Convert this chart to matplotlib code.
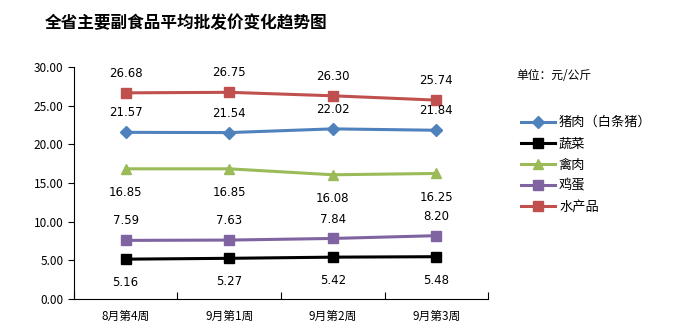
import matplotlib.pyplot as plt
import numpy as np

plt.rcParams['font.family'] = ['Noto Sans CJK SC', 'DejaVu Sans']

weeks = ['8月第4周', '9月第1周', '9月第2周', '9月第3周']
pork = [21.57, 21.54, 22.02, 21.84]
veg = [5.16, 5.27, 5.42, 5.48]
poultry = [16.85, 16.85, 16.08, 16.25]
eggs = [7.59, 7.63, 7.84, 8.20]
aquatic = [26.68, 26.75, 26.30, 25.74]

series = [
    ('猪肉（白条猪）', pork, '#4F81BD', 'D', 'above'),
    ('蔬菜', veg, '#000000', 's', 'below'),
    ('禽肉', poultry, '#9BBB59', '^', 'below'),
    ('鸡蛋', eggs, '#8064A2', 's', 'above'),
    ('水产品', aquatic, '#C0504D', 's', 'above'),
]

fig = plt.figure(figsize=(6.78, 3.36), dpi=100)
ax = fig.add_axes([0.109, 0.110, 0.611, 0.690])

x = np.arange(len(weeks))
for name, vals, color, mk, pos in series:
    ax.plot(x, vals, color=color, lw=2.2, marker=mk, markersize=7 if mk != 'D' else 6,
            label=name)
    for xi, v in zip(x, vals):
        dy = 14 if pos == 'above' else -17
        ax.annotate(f'{v:.2f}', (xi, v), xytext=(0, dy), textcoords='offset points',
                    ha='center', va='center', fontsize=8.5, family='DejaVu Sans')

ax.set_xlim(-0.5, 3.5)
ax.set_ylim(0, 30)
ax.set_yticks(np.arange(0, 31, 5))
ax.set_yticklabels([f'{v:.2f}' for v in np.arange(0, 31, 5)], fontsize=8.5)
ax.set_xticks(np.arange(-0.5, 4, 1))
ax.set_xticklabels([])
ax.set_xticks(x, minor=True)
ax.set_xticklabels(weeks, minor=True, fontsize=8.5)
ax.tick_params(axis='x', which='minor', length=0, pad=8)
ax.tick_params(axis='x', which='major', direction='in', length=5)
ax.tick_params(axis='y', direction='out', length=4)
ax.spines['top'].set_visible(False)
ax.spines['right'].set_visible(False)

fig.text(0.066, 0.93, '全省主要副食品平均批发价变化趋势图', fontsize=12, fontweight='bold',
         va='center')
fig.text(0.762, 0.776, '单位：元/公斤', fontsize=8.5, va='center')
ax.legend(loc='upper left', bbox_to_anchor=(1.05, 0.84), frameon=False, fontsize=9.5,
          handlelength=2.6, labelspacing=0.62, handletextpad=0.3)

fig.savefig('out.png', dpi=100)
